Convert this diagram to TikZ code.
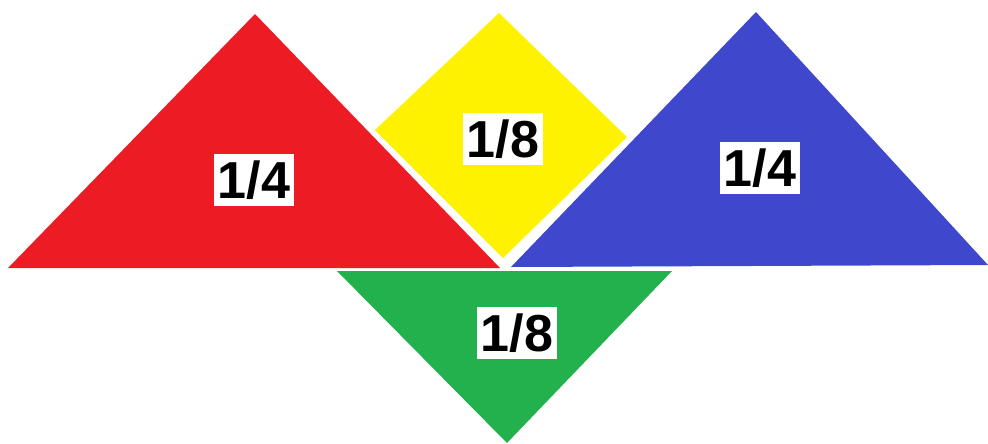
\documentclass[tikz,border=0pt]{standalone}
\usepackage{fontspec}
\setmainfont{Liberation Sans}
\usepackage{tikz}
\usetikzlibrary{positioning,calc}

\definecolor{redpiece}{RGB}{237,28,36}
\definecolor{yellowpiece}{RGB}{255,242,0}
\definecolor{bluepiece}{RGB}{63,72,204}
\definecolor{greenpiece}{RGB}{34,177,76}

\begin{document}
\begin{tikzpicture}[
  x=0.025cm, y=-0.025cm,
  piece/.style={draw=none},
  frac/.style={fill=white, inner sep=0pt, minimum width=2cm, minimum height=1.3cm,
               font=\fontsize{37}{37}\selectfont\bfseries}
]
  \useasboundingbox (0,0) rectangle (988,443);

  % Red triangle (left)
  \coordinate (red-l) at (8,268);
  \coordinate (red-t) at (255,14);
  \coordinate (red-r) at (500,268);
  \fill[piece, redpiece] (red-l) -- (red-t) -- (red-r) -- cycle;

  % Yellow square (middle)
  \coordinate (yel-t) at (499,13);
  \coordinate (yel-r) at (627,137);
  \coordinate (yel-b) at (503,258);
  \coordinate (yel-l) at (375,130);
  \fill[piece, yellowpiece] (yel-t) -- (yel-r) -- (yel-b) -- (yel-l) -- cycle;

  % Blue triangle (right)
  \coordinate (blue-l) at (511,267);
  \coordinate (blue-t) at (756,12);
  \coordinate (blue-r) at (988,265);
  \fill[piece, bluepiece] (blue-l) -- (blue-t) -- (blue-r) -- cycle;

  % Green triangle (below)
  \coordinate (green-l) at (337,271);
  \coordinate (green-r) at (672,271);
  \coordinate (green-b) at (507,443);
  \fill[piece, greenpiece] (green-l) -- (green-r) -- (green-b) -- cycle;

  % Labels
  \node[frac] (red-lbl) at (254,180) {1/4};
  \node[frac] (yel-lbl) at (503,139) {1/8};
  \node[frac] (blue-lbl) at (760,168) {1/4};
  \node[frac] (green-lbl) at (517,333) {1/8};
\end{tikzpicture}
\end{document}
